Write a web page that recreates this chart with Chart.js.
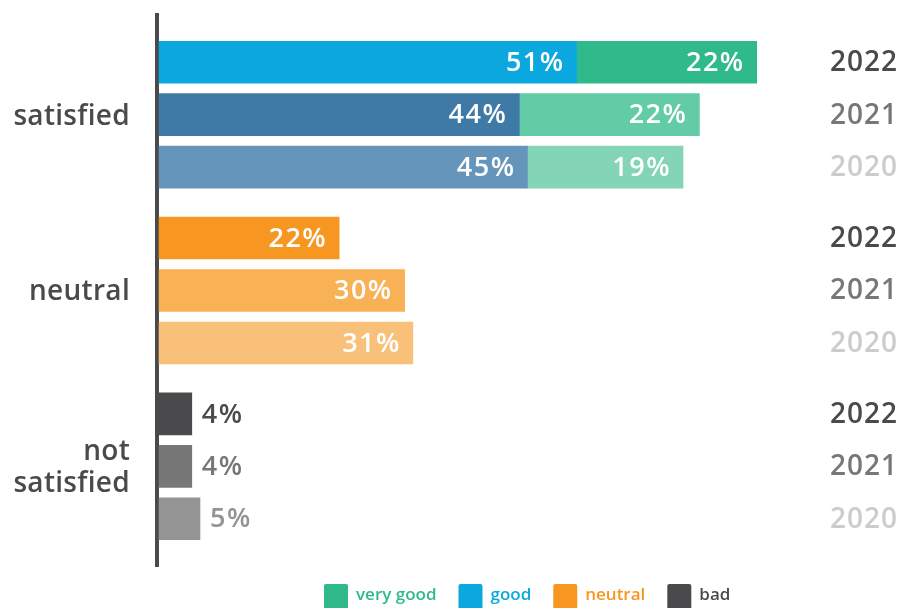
<!DOCTYPE html>
<html>
<head>
<meta charset="utf-8">
<script src="https://cdn.jsdelivr.net/npm/chart.js@4.4.0/dist/chart.umd.min.js"></script>
<style>
  html, body { margin: 0; padding: 0; background: #fff; overflow: hidden; }
  #wrap { width: 899px; height: 608px; }
</style>
</head>
<body>
<div id="wrap"><canvas id="grafico" width="899" height="608"></canvas></div>
<script>
// datos de la encuesta
var categorias = ['satisfied', 'neutral', 'not satisfied'];
var anios = ['2022', '2021', '2020'];
var muyBueno = [22, 22, 19];
var bueno = [51, 44, 45];
var neutral = [22, 30, 31];
var malo = [4, 4, 5];

// colores por serie, un tono por año (2022, 2021, 2020)
var colMuyBueno = ['#30b98a', '#63cba6', '#84d4b6'];
var colBueno = ['#0aa8df', '#3f79a6', '#6595ba'];
var colNeutral = ['#f79722', '#f8b154', '#f9c079'];
var colMalo = ['#4a4a4c', '#777777', '#949494'];
var colAnio = ['#4a4a4c', '#777777', '#cccccc'];
var gris = '#4a4a4c';
var fuente = '"Open Sans", "Noto Sans", sans-serif';

var salto = 3.35; // separacion entre grupos

function posicion(g, i) {
    return g * salto + i;
}

// arma los puntos de una serie que pertenece a un solo grupo
function puntos(valores, grupo) {
    return valores.map(function (v, i) {
        return { x: v, y: posicion(grupo, i), anio: i };
    });
}

var datasets = [
    { label: 'good', data: puntos(bueno, 0), colores: colBueno },
    { label: 'very good', data: puntos(muyBueno, 0), colores: colMuyBueno },
    { label: 'neutral', data: puntos(neutral, 1), colores: colNeutral },
    { label: 'bad', data: puntos(malo, 2), colores: colMalo, fuera: true }
];
datasets.forEach(function (d) {
    d.backgroundColor = function (ctx) {
        return ctx.raw ? d.colores[ctx.raw.anio] : d.colores[0];
    };
    d.borderWidth = 0;
    d.barThickness = 42;
});

var etiquetas = { //textos de porcentajes, categorias y años
    id: 'etiquetas',
    afterDatasetsDraw: function (chart) {
        var ctx = chart.ctx;
        var y = chart.scales.y;
        ctx.save();
        ctx.font = '600 27px ' + fuente;
        ctx.letterSpacing = '1.5px';
        ctx.textBaseline = 'middle';
        chart.data.datasets.forEach(function (d, di) {
            var meta = chart.getDatasetMeta(di);
            meta.data.forEach(function (bar, i) {
                var texto = d.data[i].x + '%';
                if (d.fuera) {
                    ctx.fillStyle = d.colores[d.data[i].anio];
                    ctx.textAlign = 'left';
                    ctx.fillText(texto, bar.x + 10, bar.y + 1);
                } else {
                    ctx.fillStyle = '#ffffff';
                    ctx.textAlign = 'right';
                    ctx.fillText(texto, bar.x - 12, bar.y + 1);
                }
            });
        });

        // años a la derecha
        ctx.font = '600 28px ' + fuente;
        ctx.letterSpacing = '1px';
        ctx.textAlign = 'left';
        for (var g = 0; g < categorias.length; g++) {
            for (var i = 0; i < anios.length; i++) {
                ctx.fillStyle = colAnio[i];
                ctx.fillText(anios[i], 830, y.getPixelForValue(posicion(g, i)) + 1);
            }
        }

        // categorias a la izquierda
        ctx.letterSpacing = '0.3px';
        ctx.font = '600 28px ' + fuente;
        ctx.textAlign = 'right';
        ctx.fillStyle = gris;
        categorias.forEach(function (c, g) {
            var centro = y.getPixelForValue(posicion(g, 1)) + 2;
            var lineas = c === 'not satisfied' ? ['not', 'satisfied'] : [c];
            var alto = 32;
            lineas.forEach(function (l, k) {
                ctx.fillText(l, 130, centro + (k - (lineas.length - 1) / 2) * alto);
            });
        });
        ctx.restore();
    }
};

var leyenda = { //leyenda abajo
    id: 'leyenda',
    afterDraw: function (chart) {
        var ctx = chart.ctx;
        var items = [
            { t: 'very good', c: colMuyBueno[0] },
            { t: 'good', c: colBueno[0] },
            { t: 'neutral', c: colNeutral[0] },
            { t: 'bad', c: colMalo[0] }
        ];
        ctx.save();
        ctx.font = '600 17px ' + fuente;
        ctx.textBaseline = 'middle';
        ctx.textAlign = 'left';
        var x = 324;
        items.forEach(function (it) {
            ctx.fillStyle = it.c;
            ctx.beginPath();
            ctx.roundRect(x, 584, 24, 26, 2);
            ctx.fill();
            ctx.fillText(it.t, x + 32, 595);
            x += 32 + ctx.measureText(it.t).width + 22;
        });
        ctx.restore();
    }
};

var grafico = new Chart(document.getElementById('grafico'), {
    type: 'bar',
    data: { datasets: datasets },
    options: {
        indexAxis: 'y',
        responsive: false,
        animation: false,
        layout: { padding: { top: 15, right: 85, bottom: 42, left: 0 } },
        scales: {
            x: {
                type: 'linear',
                stacked: true,
                min: -0.25,
                max: 80,
                display: false
            },
            y: {
                type: 'linear',
                stacked: true,
                reverse: true,
                offset: false,
                min: -0.9,
                max: 9.6,
                afterFit: function (s) { s.width = 157; },
                ticks: { display: false },
                grid: { display: false },
                border: { display: true, color: gris, width: 4 }
            }
        },
        plugins: {
            legend: { display: false },
            tooltip: { enabled: false }
        }
    },
    plugins: [etiquetas, leyenda]
});
</script>
</body>
</html>
